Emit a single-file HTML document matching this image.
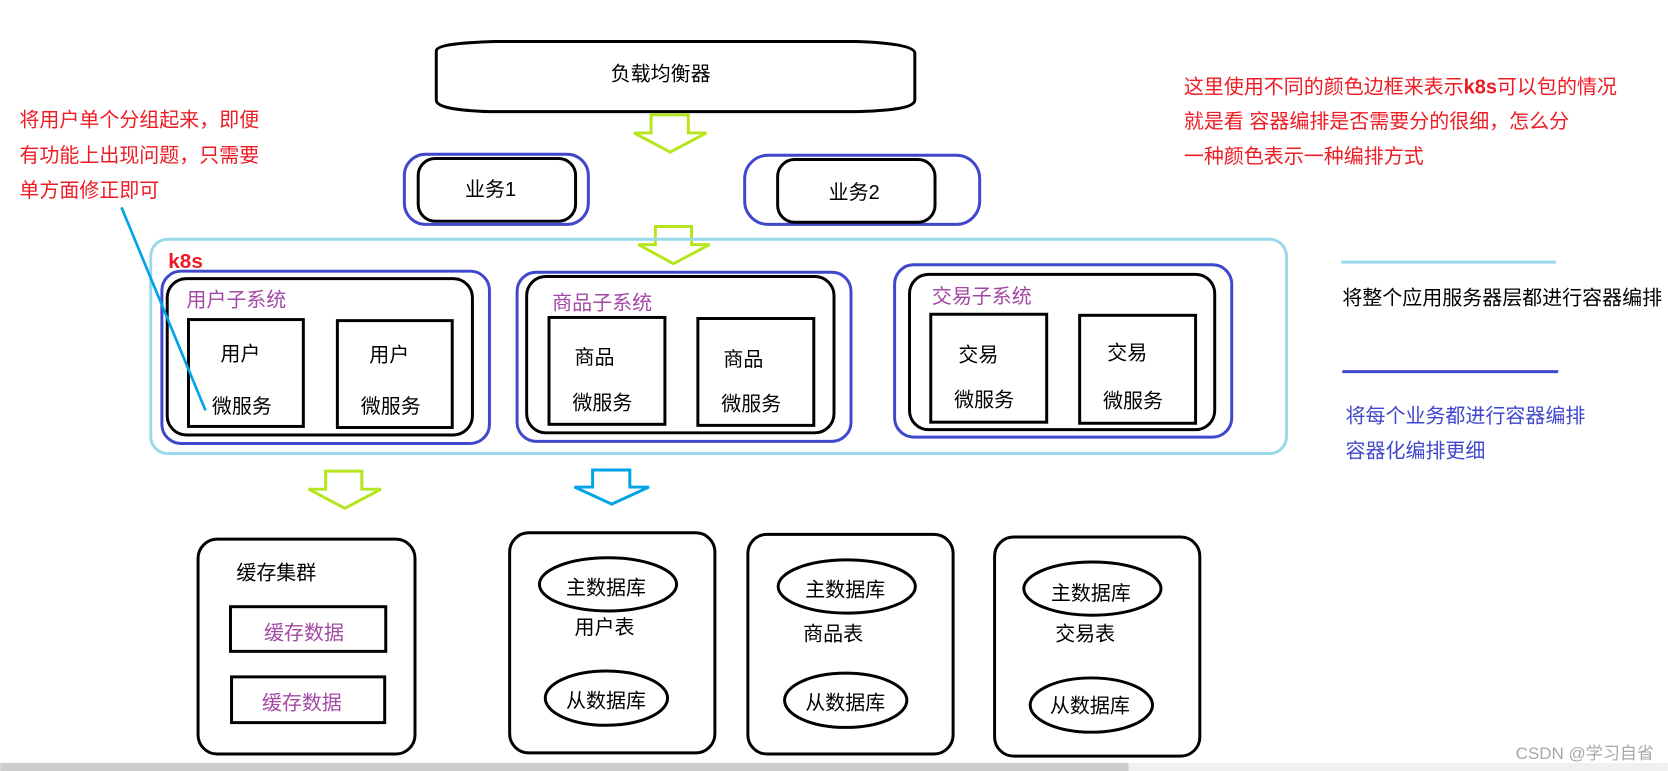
<!DOCTYPE html>
<html lang="zh"><head><meta charset="utf-8"><title>架构图</title>
<style>
html,body{margin:0;padding:0;background:#fff;width:1668px;height:771px;overflow:hidden}
svg{display:block}
text{font-family:"Liberation Sans","Noto Sans CJK SC",sans-serif;font-size:18.8px;dominant-baseline:central;fill:#000;transform:translateY(1.5px)}
.r{fill:#ed1c24}.p{fill:#a349a4}.b{fill:#3f48cc}
.k{fill:none;stroke:#000;stroke-width:2.8}
.u{fill:none;stroke:#3f48cc;stroke-width:2.8}
.g{fill:none;stroke:#b5e61d;stroke-width:2.8}
</style></head><body>
<svg width="1668" height="771" viewBox="0 0 1568 725" xmlns="http://www.w3.org/2000/svg">
<rect x="0" y="717.5" width="1061" height="7.5" fill="#cdcdcd"/>
<rect x="1061" y="717.5" width="507" height="7.5" fill="#f0f0f0"/>

<path class="k" d="M465 39H805C835 40 860 43 860 50V94C860 102 835 104 805 105H460C435 104 410 102 410 94V48C410 42 435 40 465 39Z"/>
<text x="574" y="68.500">负载均衡器</text>
<path class="g" d="M612 108H647V125H664L630 143L596 125H612Z"/>

<rect class="u" x="380" y="145" width="173" height="66" rx="20"/>
<rect class="k" x="393" y="149" width="148" height="59" rx="16"/>
<text x="437" y="177">业务1</text>
<rect class="u" x="700" y="146" width="221" height="65" rx="22"/>
<rect class="k" x="731" y="150" width="148" height="59" rx="16"/>
<text x="779" y="180">业务2</text>
<path class="g" d="M616 213H650V230H667L633 248L600 230H616Z"/>

<rect x="141.500" y="225" width="1068" height="201.500" rx="16" fill="none" stroke="#99d9ea" stroke-width="2.800"/>
<text x="158" y="244.500" class="r" style="font-weight:700;font-size:19.5px">k8s</text>

<rect class="u" x="152" y="255" width="308" height="162" rx="18"/>
<rect class="k" x="157" y="262" width="287" height="147" rx="18"/>
<text x="175" y="281" class="p">用户子系统</text>
<rect class="k" x="177" y="300.500" width="108" height="100.500"/>
<rect class="k" x="317" y="301.500" width="108" height="100.500"/>
<text x="207" y="332">用户</text><text x="199" y="381">微服务</text>
<text x="347" y="333">用户</text><text x="339" y="381">微服务</text>

<rect class="u" x="486" y="256" width="314" height="159" rx="18"/>
<rect class="k" x="495" y="260" width="289" height="147" rx="18"/>
<text x="519" y="284" class="p">商品子系统</text>
<rect class="k" x="516" y="298.500" width="109" height="100.500"/>
<rect class="k" x="656" y="299.500" width="109" height="100.500"/>
<text x="540" y="335">商品</text><text x="538" y="378">微服务</text>
<text x="680" y="337">商品</text><text x="678" y="379">微服务</text>

<rect class="u" x="841" y="249" width="317" height="162" rx="18"/>
<rect class="k" x="855" y="258" width="287" height="146" rx="18"/>
<text x="876" y="278" class="p">交易子系统</text>
<rect class="k" x="875" y="295.500" width="109" height="101.500"/>
<rect class="k" x="1015" y="296.500" width="109" height="101.500"/>
<text x="901" y="333">交易</text><text x="897" y="375">微服务</text>
<text x="1041" y="331">交易</text><text x="1037" y="376">微服务</text>

<line x1="114" y1="195" x2="193" y2="386" stroke="#00a2e8" stroke-width="2.500"/>

<text x="18" y="112" class="r">将用户单个分组起来，即便</text>
<text x="18" y="145" class="r">有功能上出现问题，只需要</text>
<text x="18" y="178" class="r">单方面修正即可</text>

<text x="1113" y="81" class="r">这里使用不同的颜色边框来表示<tspan style="font-weight:700">k8s</tspan>可以包的情况</text>
<text x="1113" y="113" class="r">就是看 容器编排是否需要分的很细，怎么分</text>
<text x="1113" y="146" class="r">一种颜色表示一种编排方式</text>

<line x1="1261" y1="246.500" x2="1463" y2="246.500" stroke="#99d9ea" stroke-width="2.800"/>
<text x="1262" y="279">将整个应用服务器层都进行容器编排</text>
<line x1="1262" y1="349.500" x2="1465" y2="349.500" stroke="#3f48cc" stroke-width="2.800"/>
<text x="1265" y="390" class="b">将每个业务都进行容器编排</text>
<text x="1265" y="423" class="b">容器化编排更细</text>

<path class="g" d="M306 443H340V460H358L324 478L290 460H306Z"/>
<path d="M557 442H592V458H610L575 474L540 458H557Z" fill="none" stroke="#00a2e8" stroke-width="2.800"/>

<rect class="k" x="186" y="507" width="204" height="202" rx="18"/>
<text x="222" y="538">缓存集群</text>
<rect class="k" x="216.500" y="570.500" width="146" height="42"/>
<rect class="k" x="217.500" y="636.500" width="144" height="43"/>
<text x="248" y="594" class="p">缓存数据</text>
<text x="246" y="660" class="p">缓存数据</text>

<rect class="k" x="479" y="501" width="193" height="207" rx="18"/>
<ellipse class="k" cx="571.500" cy="549.500" rx="64.500" ry="25"/>
<text x="532" y="552">主数据库</text>
<text x="540" y="589">用户表</text>
<ellipse class="k" cx="570" cy="656.500" rx="57.500" ry="25.500"/>
<text x="532" y="658">从数据库</text>

<rect class="k" x="703" y="502.500" width="193" height="206.500" rx="18"/>
<ellipse class="k" cx="796" cy="551.500" rx="64.500" ry="25"/>
<text x="757" y="554">主数据库</text>
<text x="755" y="595">商品表</text>
<ellipse class="k" cx="795" cy="658.500" rx="57.500" ry="25.500"/>
<text x="757" y="660">从数据库</text>

<rect class="k" x="935" y="505" width="193" height="206" rx="18"/>
<ellipse class="k" cx="1027" cy="553.500" rx="64.500" ry="25"/>
<text x="988" y="557">主数据库</text>
<text x="992" y="595">交易表</text>
<ellipse class="k" cx="1026" cy="663" rx="57.500" ry="25.500"/>
<text x="987" y="663">从数据库</text>

<text x="1425" y="707" style="font-size:16px;fill:#a8a8a8">CSDN @学习自省</text>
</svg>
</body></html>
